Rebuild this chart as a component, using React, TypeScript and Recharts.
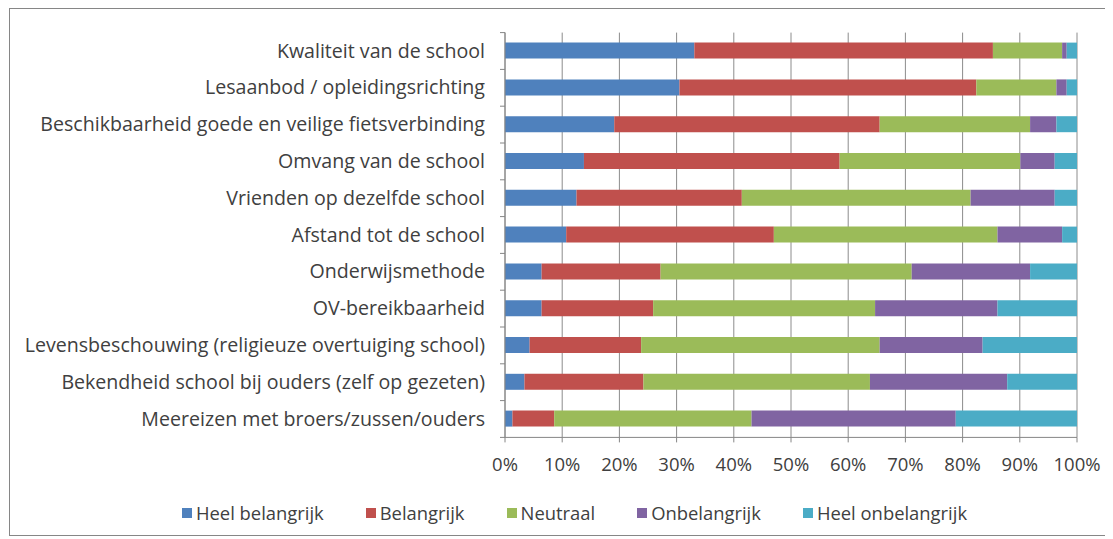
import React from "react";
import {
  BarChart,
  Bar,
  XAxis,
  YAxis,
  CartesianGrid,
  Legend,
} from "recharts";

const categories = [
  "Kwaliteit van de school",
  "Lesaanbod / opleidingsrichting",
  "Beschikbaarheid goede en veilige fietsverbinding",
  "Omvang van de school",
  "Vrienden op dezelfde school",
  "Afstand tot de school",
  "Onderwijsmethode",
  "OV-bereikbaarheid",
  "Levensbeschouwing (religieuze overtuiging school)",
  "Bekendheid school bij ouders (zelf op gezeten)",
  "Meereizen met broers/zussen/ouders",
];

const heelBelangrijk = [33.1, 30.5, 19.1, 13.8, 12.5, 10.7, 6.4, 6.4, 4.3, 3.4, 1.3];
const belangrijk = [52.2, 51.9, 46.4, 44.7, 28.9, 36.3, 20.8, 19.5, 19.5, 20.8, 7.3];
const neutraal = [12.1, 14.0, 26.3, 31.6, 40.0, 39.1, 43.9, 38.8, 41.7, 39.6, 34.5];
const onbelangrijk = [0.8, 1.8, 4.6, 6.0, 14.7, 11.3, 20.7, 21.4, 18.0, 24.0, 35.7];
const heelOnbelangrijk = [1.8, 1.8, 3.6, 3.9, 3.9, 2.6, 8.2, 13.9, 16.5, 12.2, 21.2];

const seriesNames = ["Heel belangrijk", "Belangrijk", "Neutraal", "Onbelangrijk", "Heel onbelangrijk"];
const xTicks = [0, 0.1, 0.2, 0.3, 0.4, 0.5, 0.6, 0.7, 0.8, 0.9, 1];

const COLORS = ["#4F81BD", "#C0504D", "#9BBB59", "#8064A2", "#4BACC6"];
const FONT = "'Open Sans', 'Liberation Sans', sans-serif";
const TEXT = "#404040";
const BAND = 404.8 / categories.length;

const data = categories.map((name, i) => ({
  name,
  s0: heelBelangrijk[i],
  s1: belangrijk[i],
  s2: neutraal[i],
  s3: onbelangrijk[i],
  s4: heelOnbelangrijk[i],
}));

const YTick = (props: any) => {
  const { x, y, payload, index } = props;
  const ax = x + 20;
  return (
    <g>
      <line x1={ax - 5} x2={ax} y1={y - BAND / 2} y2={y - BAND / 2} stroke="#868686" />
      {index === categories.length - 1 && (
        <line x1={ax - 5} x2={ax} y1={y + BAND / 2} y2={y + BAND / 2} stroke="#868686" />
      )}
      <text x={x} y={y} dy={6.5} textAnchor="end" fill={TEXT} fontSize={19.6} fontFamily={FONT}>
        {payload.value}
      </text>
    </g>
  );
};

const LegendContent = () => (
  <div
    style={{
      display: "flex",
      justifyContent: "center",
      paddingLeft: 34,
      fontFamily: FONT,
      fontSize: 18.4,
      color: TEXT,
    }}
  >
    {seriesNames.map((n, i) => (
      <div key={n} style={{ display: "flex", alignItems: "center", marginRight: i < 4 ? 42 : 0 }}>
        <span style={{ width: 10, height: 10, background: COLORS[i], marginRight: 4, display: "inline-block" }} />
        <span>{n}</span>
      </div>
    ))}
  </div>
);

export default function App() {
  return (
    <div
      style={{
        width: 1097,
        height: 528,
        marginLeft: 1,
        border: "1px solid #868686",
        boxSizing: "border-box",
        background: "#fff",
      }}
    >
      <BarChart
        width={1095}
        height={526}
        data={data}
        layout="vertical"
        stackOffset="expand"
        barSize={16}
        margin={{ top: 23.6, right: 28, left: 10, bottom: 57.6 }}
      >
        <CartesianGrid horizontal={false} stroke="#8c8c8c" />
        <XAxis
          type="number"
          domain={[0, 1]}
          ticks={xTicks}
          tickFormatter={(v: number) => `${Math.round(v * 100)}%`}
          height={40}
          stroke="#868686"
          tickSize={5}
          tickMargin={15}
          tick={{ fill: TEXT, fontSize: 18.5, fontFamily: FONT }}
          interval={0}
        />
        <YAxis
          type="category"
          dataKey="name"
          width={485}
          stroke="#868686"
          tickLine={false}
          tickSize={0}
          tickMargin={20}
          tick={<YTick />}
          interval={0}
        />
        <Legend
          layout="horizontal"
          verticalAlign="middle"
          align="center"
          content={<LegendContent />}
          wrapperStyle={{ top: 491, left: 0, width: 1095 }}
        />
        {["s0", "s1", "s2", "s3", "s4"].map((k, i) => (
          <Bar
            key={k}
            dataKey={k}
            name={seriesNames[i]}
            stackId="a"
            fill={COLORS[i]}
            isAnimationActive={false}
          />
        ))}
      </BarChart>
    </div>
  );
}
